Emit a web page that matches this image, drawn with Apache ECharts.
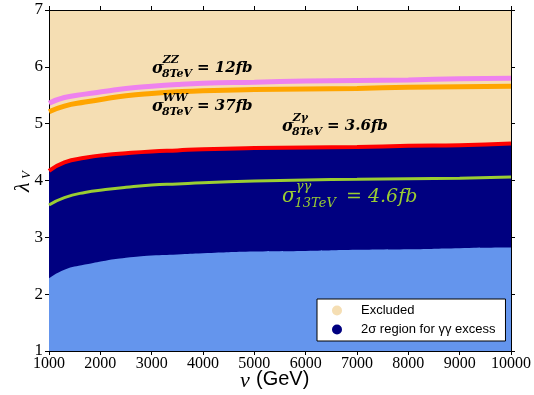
<!DOCTYPE html>
<html>
<head>
<meta charset="utf-8">
<script src="https://cdn.jsdelivr.net/npm/echarts@6/dist/echarts.min.js"></script>
<style>
  html, body { margin: 0; padding: 0; background: #fff; }
  #chart { width: 534px; height: 395px; }
</style>
</head>
<body>
<div id="chart"></div>
<script>
// v in GeV
var vScale = [1000, 1300, 1700, 2100, 2500, 3000, 3500, 4000, 5000, 6000, 7000, 8000, 9000, 10000];
// lambda_V contours
var sigmaZZ = [5.36, 5.46, 5.52, 5.57, 5.62, 5.66, 5.69, 5.71, 5.73, 5.75, 5.76, 5.77, 5.79, 5.80];
var sigmaWW = [5.21, 5.31, 5.38, 5.44, 5.49, 5.53, 5.56, 5.58, 5.60, 5.61, 5.62, 5.64, 5.65, 5.66];
var sigmaZgamma = [4.17, 4.32, 4.40, 4.45, 4.48, 4.51, 4.53, 4.55, 4.57, 4.58, 4.59, 4.61, 4.62, 4.65];
var sigmaGG13 = [3.57, 3.70, 3.79, 3.84, 3.88, 3.92, 3.94, 3.96, 3.99, 4.01, 4.02, 4.03, 4.04, 4.06];
var lowerEdge = [2.28, 2.43, 2.52, 2.59, 2.64, 2.68, 2.70, 2.72, 2.75, 2.76, 2.78, 2.79, 2.81, 2.82];

function pairs(ys) {
	return vScale.map(function (v, i) { return [v, ys[i]]; });
}

var serif = '"Liberation Serif", "DejaVu Serif", serif';
var mathSerif = '"DejaVu Serif", serif';
var sans = '"Liberation Sans", Arial, sans-serif';

// sigma with super/subscript, positions in px
function sigmaText(x, y, sup, sub, rest, restX, size, color, weight) {
	var small = Math.round(size * 0.7);
	var font = function (s) { return 'italic ' + weight + ' ' + s + 'px ' + mathSerif; };
	return [
		{ type: 'text', z: 100, left: x, top: y - size * 0.62, style: { text: 'σ', font: font(size + 1), fill: color } },
		{ type: 'text', z: 100, left: x + size * 0.72, top: y - size * 1.0, style: { text: sup, font: font(small), fill: color } },
		{ type: 'text', z: 100, left: x + size * 0.66, top: y - size * 0.1, style: { text: sub, font: font(small), fill: color } },
		{ type: 'text', z: 100, left: restX, top: y - size * 0.62, style: { text: rest, font: font(size), fill: color } }
	];
}

var chart = echarts.init(document.getElementById('chart'));

var axisCommon = {
	axisLine: { show: true, lineStyle: { color: '#000', width: 1 } },
	axisTick: { show: true, inside: false, length: 4, lineStyle: { color: '#000' } },
	splitLine: { show: false }
};

var graphics = []
	.concat(sigmaText(152, 70, 'ZZ', '8TeV', '= 12fb', 197, 15, '#000', 'bold'))
	.concat(sigmaText(152, 108, 'WW', '8TeV', '= 37fb', 197, 15, '#000', 'bold'))
	.concat(sigmaText(282, 128, 'Zγ', '8TeV', '= 3.6fb', 327, 15, '#000', 'bold'))
	.concat(sigmaText(282, 199, 'γγ', '13TeV', '= 4.6fb', 346, 19, '#9acd32', 'normal'));

// axis titles
graphics.push(
	{ type: 'text', z: 100, left: 240, top: 370, style: { text: 'v', font: 'italic 22px ' + serif, fill: '#000' } },
	{ type: 'text', z: 100, left: 256, top: 369, style: { text: '(GeV)', font: '20px ' + sans, fill: '#000' } },
	{ type: 'text', z: 100, x: 12, y: 192, rotation: Math.PI / 2, style: { text: 'λ', font: 'italic 22px ' + serif, fill: '#000' } },
	{ type: 'text', z: 100, x: 20, y: 179, rotation: Math.PI / 2, style: { text: 'V', font: 'italic 13px ' + serif, fill: '#000' } }
);

var lineBase = { type: 'line', smooth: 0.5, showSymbol: false };

var option = {
	animation: false,
	backgroundColor: '#fff',
	grid: { left: 49, right: 18, top: 10, bottom: 44, show: true, backgroundColor: '#f5deb3', borderWidth: 0 },
	xAxis: [
		Object.assign({
			type: 'value', min: 1000, max: 10000, interval: 1000, position: 'bottom',
			axisLabel: {
				color: '#000', fontFamily: serif, fontSize: 16, margin: 5, showMinLabel: true, showMaxLabel: true,
				formatter: function (v) { return String(v); }
			}
		}, axisCommon),
		Object.assign({
			type: 'value', min: 1000, max: 10000, interval: 1000, position: 'top',
			axisLabel: { show: false }
		}, axisCommon)
	],
	yAxis: [
		Object.assign({
			type: 'value', min: 1, max: 7, interval: 1, position: 'left',
			axisLabel: { color: '#000', fontFamily: serif, fontSize: 17, margin: 6 }
		}, axisCommon),
		Object.assign({
			type: 'value', min: 1, max: 7, interval: 1, position: 'right',
			axisLabel: { show: false }
		}, axisCommon)
	],
	legend: {
		left: 317, top: 299, orient: 'vertical',
		padding: [5, 10, 5, 15], itemGap: 6, itemWidth: 10, itemHeight: 10,
		backgroundColor: '#fff', borderColor: '#000', borderWidth: 1, borderRadius: 0,
		textStyle: { color: '#000', fontFamily: sans, fontSize: 13, padding: [0, 0, 0, 14] },
		data: [
			{ name: 'Excluded', icon: 'circle', itemStyle: { color: '#f5deb3' } },
			{ name: '2σ region for γγ excess', icon: 'circle', itemStyle: { color: '#000080' } }
		]
	},
	series: [
		{ name: 'Excluded', type: 'line', data: [], itemStyle: { color: '#f5deb3' } },
		Object.assign({}, lineBase, {
			name: '2σ region for γγ excess', data: pairs(sigmaZgamma), itemStyle: { color: '#000080' },
			lineStyle: { color: '#ff0000', width: 4 }, areaStyle: { color: '#000080', opacity: 1 }, z: 2
		}),
		Object.assign({}, lineBase, {
			name: 'allowed', data: pairs(lowerEdge),
			lineStyle: { width: 0 }, areaStyle: { color: '#6495ed', opacity: 1 }, z: 3
		}),
		Object.assign({}, lineBase, {
			name: 'gg13', data: pairs(sigmaGG13), lineStyle: { color: '#9acd32', width: 3 }, z: 4
		}),
		Object.assign({}, lineBase, {
			name: 'zz', data: pairs(sigmaZZ), lineStyle: { color: '#ee82ee', width: 5 }, z: 4
		}),
		Object.assign({}, lineBase, {
			name: 'ww', data: pairs(sigmaWW), lineStyle: { color: '#ffa500', width: 5 }, z: 4
		})
	],
	graphic: graphics
};

chart.setOption(option);
</script>
</body>
</html>
